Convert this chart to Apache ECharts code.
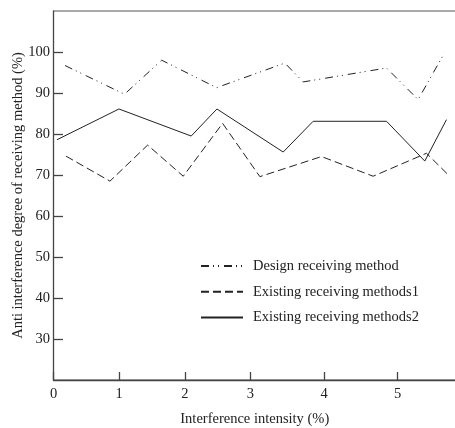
<!DOCTYPE html>
<html>
<head>
<meta charset="utf-8">
<style>
  html, body { margin: 0; padding: 0; background: #fff; }
  #chart { width: 455px; height: 428px; }
</style>
<script src="https://cdn.jsdelivr.net/npm/echarts@6/dist/echarts.min.js"></script>
</head>
<body>
<div id="chart"></div>
<script>
// X positions are in axis units (tick "1".."3" at 1..3; ticks "4","5" sit a bit wider in the source)
const xTickValues = [0, 1, 2, 3, 4.12, 5.24];
const xTickLabels = ['0', '1', '2', '3', '4', '5'];
const yTickValues = [30, 40, 50, 60, 70, 80, 90, 100];

const seriesNames = ['Design receiving method', 'Existing receiving methods1', 'Existing receiving methods2'];

const designX = [0.175, 1.081, 1.647, 2.484, 3.524, 3.802, 5.072, 5.553, 5.959];
const designY = [96.7, 89.7, 98.0, 91.3, 97.3, 92.7, 96.1, 88.4, 99.9];

const existing1X = [0.19, 0.86, 1.434, 1.976, 2.575, 3.143, 4.082, 4.868, 5.68, 6.009];
const existing1Y = [74.6, 68.5, 77.3, 69.7, 82.6, 69.6, 74.5, 69.7, 75.3, 70.1];

const existing2X = [0.053, 0.997, 2.097, 2.489, 3.498, 3.954, 5.072, 5.655, 5.985];
const existing2Y = [78.6, 86.1, 79.5, 86.1, 75.6, 83.1, 83.1, 73.4, 83.5];

function pairs(xs, ys) { return xs.map((x, i) => [x, ys[i]]); }

const font = 'Liberation Serif';
const ink = '#222';
const fs = 14.5;

const chart = echarts.init(document.getElementById('chart'), null, { renderer: 'canvas' });
chart.setOption({
  animation: false,
  backgroundColor: '#fff',
  grid: {
    left: 53.5, right: -1, top: 11, bottom: 48,
    outerBoundsMode: 'none', containLabel: false,
    show: true, borderColor: '#555', borderWidth: 1
  },
  xAxis: {
    type: 'value', min: 0, max: 6.13,
    name: 'Interference intensity (%)',
    nameLocation: 'middle', nameGap: 31.5, nameMoveOverlap: false,
    nameTextStyle: { fontFamily: font, fontSize: fs, color: ink },
    axisLine: { lineStyle: { color: '#444', width: 1.3 } },
    axisTick: { inside: true, length: 8, customValues: xTickValues, lineStyle: { color: '#444', width: 1.3 } },
    axisLabel: {
      customValues: xTickValues, margin: 7,
      fontFamily: font, fontSize: fs, color: ink,
      formatter: function (v) {
        const i = xTickValues.findIndex(t => Math.abs(t - v) < 1e-6);
        return i >= 0 ? xTickLabels[i] : '';
      }
    },
    splitLine: { show: false }
  },
  yAxis: {
    type: 'value', min: 20, max: 110, interval: 10,
    name: 'Anti interference degree of receiving method (%)',
    nameLocation: 'middle', nameGap: 28, nameMoveOverlap: false,
    nameTextStyle: { fontFamily: font, fontSize: fs, color: ink },
    axisLine: { lineStyle: { color: '#444', width: 1.3 } },
    axisTick: { inside: true, length: 9.5, customValues: yTickValues, lineStyle: { color: '#444', width: 1.3 } },
    axisLabel: { customValues: yTickValues, margin: 3.5, fontFamily: font, fontSize: fs, color: ink },
    splitLine: { show: false }
  },
  legend: {
    orient: 'vertical', left: 195, top: 253.5,
    itemWidth: 42, itemHeight: 14, itemGap: 10.8,
    itemStyle: { opacity: 0, borderWidth: 0 },
    textStyle: { fontFamily: font, fontSize: fs, color: ink, padding: [0, 0, 0, 5] },
    data: seriesNames
  },
  series: [
    {
      name: seriesNames[0], type: 'line', symbol: 'none',
      data: pairs(designX, designY),
      lineStyle: { color: ink, width: 1, type: [8, 4, 1, 4, 1, 5] },
      itemStyle: { color: ink }
    },
    {
      name: seriesNames[1], type: 'line', symbol: 'none',
      data: pairs(existing1X, existing1Y),
      lineStyle: { color: ink, width: 1, type: [8, 4] },
      itemStyle: { color: ink }
    },
    {
      name: seriesNames[2], type: 'line', symbol: 'none',
      data: pairs(existing2X, existing2Y),
      lineStyle: { color: ink, width: 1, type: 'solid' },
      itemStyle: { color: ink }
    }
  ]
});
</script>
</body>
</html>
